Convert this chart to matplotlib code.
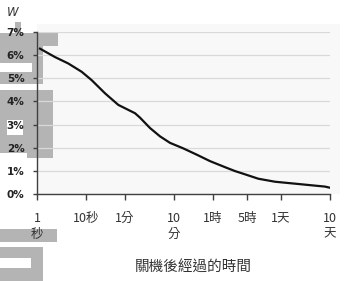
import matplotlib
matplotlib.use("Agg")
import matplotlib.pyplot as plt
from matplotlib.patches import Rectangle

# time after shutdown (seconds) and decay heat share (%)
seconds = [1.15, 2.3, 4.3, 8.05, 12.8, 23.9, 44.4, 96.8, 122, 195, 311, 495,
           922, 1722, 3205, 6980, 10300, 16400, 30500, 66500, 145000, 314000,
           685000, 865000]
power_pct = [6.28, 5.92, 5.64, 5.28, 4.92, 4.35, 3.85, 3.49, 3.30, 2.85, 2.49,
             2.21, 1.97, 1.70, 1.42, 1.13, 0.99, 0.85, 0.66, 0.53, 0.46, 0.39,
             0.32, 0.27]

tick_seconds = [1, 10, 60, 600, 3600, 18000, 86400, 864000]
tick_labels = ["1\n秒", "10秒", "1分", "10\n分", "1時", "5時", "1天", "10\n天"]
y_ticks = [0, 1, 2, 3, 4, 5, 6, 7]
y_labels = ["0%", "1%", "2%", "3%", "4%", "5%", "6%", "7%"]

W, H = 344, 281
cjk = ["Noto Sans CJK TC", "DejaVu Sans"]

fig = plt.figure(figsize=(W / 100, H / 100), dpi=100)
fig.patch.set_facecolor("white")


def px_rect(x, y, w, h, color, z):
    # rectangle given in pixels from the top-left corner
    fig.patches.append(Rectangle((x / W, 1 - (y + h) / H), w / W, h / H,
                                 transform=fig.transFigure, facecolor=color,
                                 edgecolor="none", zorder=z))


# plot area background and the grey watermark blocks behind the chart
px_rect(37, 24, 303, 170, "#f8f8f8", -3)
grey = "#b4b4b4"
px_rect(15, 22, 6, 11, grey, -2)
px_rect(0, 33, 58, 13, grey, -2)
px_rect(0, 46, 43, 38, grey, -2)
px_rect(0, 63, 32, 9, "white", -1)
px_rect(0, 90, 53, 18, grey, -2)
px_rect(0, 108, 33, 45, grey, -2)
px_rect(7, 120, 16, 15, "white", -1)
px_rect(27, 108, 26, 50, grey, -2)
px_rect(0, 229, 57, 13, grey, -2)
px_rect(0, 247, 43, 34, grey, -2)
px_rect(0, 258, 31, 10, "white", -1)

ax = fig.add_axes([37 / W, 1 - 194 / H, 293 / W, 162 / H])
ax.patch.set_visible(False)

ax.plot(seconds, power_pct, color="#111111", linewidth=1.6, zorder=3)

ax.set_xscale("log")
ax.set_xlim(1, 864000)
ax.set_ylim(0, 7)
ax.minorticks_off()

ax.set_xticks(tick_seconds)
ax.set_xticklabels(tick_labels, family=cjk, fontsize=9, color="#333333",
                   linespacing=1.25)
ax.set_yticks(y_ticks)
ax.set_yticklabels(y_labels, fontsize=7.5, fontweight="bold", color="#222222")

ax.tick_params(axis="x", direction="out", length=4, width=1, color="#404040", pad=9)
ax.tick_params(axis="y", direction="out", length=3, width=1, color="#404040", pad=6)

ax.grid(axis="y", color="#d9d9d9", linewidth=0.9)
ax.set_axisbelow(True)

for side in ["top", "right"]:
    ax.spines[side].set_visible(False)
for side in ["left", "bottom"]:
    ax.spines[side].set_color("#404040")
    ax.spines[side].set_linewidth(1)

ax.set_xlabel("關機後經過的時間", family=cjk, fontsize=10.5, color="#333333")
ax.xaxis.set_label_coords((193 - 37) / 293, (194 - 268) / 162)
ax.xaxis.label.set_verticalalignment("center")

fig.text(13 / W, 1 - 12 / H, "W", style="italic", fontsize=8.5, color="#333333",
         ha="center", va="center")

plt.savefig("out.png", dpi=100)
